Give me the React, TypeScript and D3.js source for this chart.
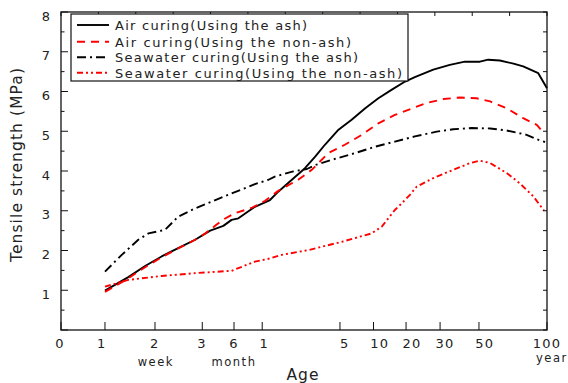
import React from "react";
import * as d3 from "d3";

// Axis position units: 0..100 along the custom "Age" axis
const xTickPos = [0, 9.05, 19.34, 29.07, 35.6, 41.4, 57.4, 64.3, 71.0, 78.0, 86.0, 100];
const xTickLabels = ["0", "1", "2", "3", "6", "1", "5", "10", "20", "30", "50", "100"];
const xLabelPos = [-0.2, 8.4, 19.3, 29.0, 35.6, 41.8, 58.4, 65.6, 72.2, 79.0, 87.2, 100];
const unitLabels = ["week", "month", "year"];
const unitPos = [19.5, 35.6, 101];
const yTickLabels = [1, 2, 3, 4, 5, 6, 7, 8];

const seriesNames = [
  "Air curing(Using the ash)",
  "Air curing(Using the non-ash)",
  "Seawater curing(Using the ash)",
  "Seawater curing(Using the non-ash)",
];

const airAsh: [number, number][] = [
  [9.05, 0.99], [13.85, 1.33], [17.3, 1.61], [20.7, 1.85], [24.1, 2.06], [27.6, 2.27],
  [30.7, 2.5], [33.4, 2.62], [35.1, 2.77], [36.5, 2.81], [39.9, 3.1], [43.0, 3.27],
  [44.7, 3.48], [47.5, 3.78], [50.2, 4.07], [52.3, 4.36], [54.3, 4.66], [57.1, 5.04],
  [59.8, 5.29], [62.6, 5.58], [65.3, 5.83], [68.0, 6.04], [70.8, 6.25], [72.8, 6.36],
  [76.6, 6.55], [80.0, 6.67], [83.1, 6.75], [86.2, 6.75], [87.9, 6.8], [90.3, 6.78],
  [93.1, 6.7], [95.1, 6.63], [98.2, 6.46], [100, 6.08],
];

const airNonAsh: [number, number][] = [
  [9.05, 0.96], [13.85, 1.3], [17.3, 1.58], [20.7, 1.83], [24.1, 2.05], [27.6, 2.27],
  [29.6, 2.42], [31.7, 2.62], [33.4, 2.78], [35.8, 2.94], [39.2, 3.07], [42.0, 3.25],
  [44.7, 3.5], [48.8, 3.78], [51.6, 4.03], [55.0, 4.45], [58.4, 4.66], [61.9, 4.91],
  [65.3, 5.2], [68.7, 5.41], [72.8, 5.6], [75.2, 5.71], [78.7, 5.81], [82.1, 5.85],
  [85.5, 5.83], [88.3, 5.75], [91.7, 5.58], [95.1, 5.33], [97.9, 5.16], [99.4, 4.95],
];

const seaAsh: [number, number][] = [
  [9.05, 1.47], [12.5, 1.89], [15.9, 2.27], [18.0, 2.43], [21.4, 2.52], [24.1, 2.85],
  [27.6, 3.06], [31.0, 3.23], [34.4, 3.4], [37.9, 3.57], [39.9, 3.67], [42.7, 3.78],
  [44.0, 3.86], [47.8, 3.99], [50.6, 4.05], [52.3, 4.15], [55.7, 4.28], [60.5, 4.45],
  [64.6, 4.61], [68.7, 4.74], [72.8, 4.87], [77.3, 4.99], [80.7, 5.05], [84.5, 5.08],
  [88.3, 5.07], [91.7, 5.02], [95.8, 4.91], [97.9, 4.8], [99.6, 4.73],
];

const seaNonAsh: [number, number][] = [
  [9.05, 1.09], [13.85, 1.26], [20.7, 1.36], [27.6, 1.43], [35.1, 1.49], [37.2, 1.59],
  [39.9, 1.72], [43.0, 1.8], [45.4, 1.89], [50.9, 2.01], [57.8, 2.22], [63.9, 2.43],
  [66.0, 2.6], [68.7, 3.02], [69.8, 3.15], [71.8, 3.4], [73.2, 3.61], [76.6, 3.82],
  [80.7, 4.03], [84.2, 4.2], [86.2, 4.26], [88.3, 4.2], [91.7, 3.95], [94.4, 3.69],
  [97.2, 3.36], [99.4, 3.0],
];

const seriesData = [airAsh, airNonAsh, seaAsh, seaNonAsh];
const seriesColors = ["#000000", "#ff0000", "#000000", "#ff0000"];
const seriesDash = ["", "8,6", "9,4,2,4", "6,3,2,3,2,3"];
const legendTextLen = [192, 236, 243, 287];

const W = 568;
const H = 383;
const L = 61, R = 547, T = 12, B = 330;
const FONT = "'DejaVu Sans', 'Liberation Sans', sans-serif";

export default function App() {
  const x = d3.scaleLinear().domain([0, 100]).range([L, R]);
  const y = d3.scaleLinear().domain([0, 8]).range([B, T]);
  const line = d3
    .line<[number, number]>()
    .x((d) => x(d[0]))
    .y((d) => y(d[1]))
    .curve(d3.curveLinear);

  const halfTicks = d3.range(0, 8.01, 0.5);
  const topTicks = d3.range(0, 13.01, 1).map((i) => (i * 100) / 13);

  const legendRows = [25, 41.7, 57.3, 72.7];

  return (
    <svg
      width={W}
      height={H}
      style={{ position: "absolute", left: 0, top: 0, background: "#fff" }}
      fontFamily={FONT}
    >
      <rect x={0} y={0} width={W} height={H} fill="#fff" />
      {/* series */}
      {seriesData.map((d, i) => (
        <path
          key={i}
          d={line(d) || ""}
          fill="none"
          stroke={seriesColors[i]}
          strokeWidth={1.9}
          strokeDasharray={seriesDash[i] || undefined}
          strokeLinejoin="round"
        />
      ))}
      {/* frame */}
      <rect x={L} y={T} width={R - L} height={B - T} fill="none" stroke="#111" strokeWidth={1.3} />
      {/* left ticks */}
      {halfTicks.map((v) => (
        <line
          key={"l" + v}
          x1={L}
          x2={L + (Number.isInteger(v) ? 7 : 3.5)}
          y1={y(v)}
          y2={y(v)}
          stroke="#111"
          strokeWidth={1}
        />
      ))}
      {/* right ticks */}
      {halfTicks.map((v) => (
        <line key={"r" + v} x1={R} x2={R - 4} y1={y(v)} y2={y(v)} stroke="#111" strokeWidth={1} />
      ))}
      {/* top ticks */}
      {topTicks.map((v, i) => (
        <line key={"t" + i} x1={x(v)} x2={x(v)} y1={T} y2={T + 4} stroke="#111" strokeWidth={1} />
      ))}
      {/* bottom ticks */}
      {xTickPos.map((v, i) => (
        <line key={"b" + i} x1={x(v)} x2={x(v)} y1={B} y2={B - 8} stroke="#111" strokeWidth={1} />
      ))}
      {/* y tick labels */}
      {yTickLabels.map((v) => (
        <text key={"yl" + v} x={50} y={y(v) + 8.5} textAnchor="end" fontSize={13} fill="#222">
          {v}
        </text>
      ))}
      {/* x tick labels */}
      {xTickLabels.map((t, i) => (
        <text
          key={"xl" + i}
          x={x(xLabelPos[i])}
          y={348}
          textAnchor="middle"
          fontSize={13}
          letterSpacing={1.2}
          fill="#222"
        >
          {t}
        </text>
      ))}
      {unitLabels.map((t, i) => (
        <text
          key={"ul" + i}
          x={x(unitPos[i])}
          y={i === 2 ? 362 : 366}
          textAnchor="middle"
          fontSize={11.5}
          letterSpacing={1.5}
          fill="#222"
        >
          {t}
        </text>
      ))}
      <text x={303} y={380} textAnchor="middle" fontSize={15.5} letterSpacing={1} fill="#222">
        Age
      </text>
      <text
        transform="translate(22,165) rotate(-90)"
        textAnchor="middle"
        fontSize={15.5}
        textLength={194}
        lengthAdjust="spacing"
        fill="#222"
      >
        Tensile strength (MPa)
      </text>
      {/* legend */}
      <rect x={71} y={14} width={337} height={67} fill="#fff" stroke="#111" strokeWidth={1.2} />
      {seriesNames.map((name, i) => (
        <g key={"lg" + i}>
          <line
            x1={77}
            x2={109}
            y1={legendRows[i]}
            y2={legendRows[i]}
            stroke={seriesColors[i]}
            strokeWidth={1.9}
            strokeDasharray={seriesDash[i] || undefined}
          />
          <text
            x={115}
            y={legendRows[i] + 4.8}
            fontSize={13}
            textLength={legendTextLen[i]}
            lengthAdjust="spacing"
            fill="#222"
          >
            {name}
          </text>
        </g>
      ))}
    </svg>
  );
}
